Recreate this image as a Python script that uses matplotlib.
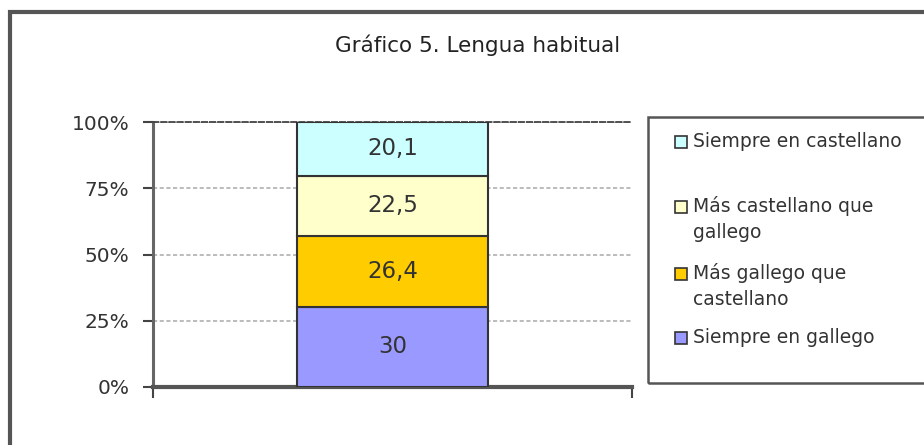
import matplotlib
matplotlib.use("Agg")
import numpy as np
from matplotlib import pyplot as plt
from matplotlib.patches import Rectangle

plt.rcParams['font.family'] = ['DejaVu Sans']

# data (stacked from bottom to top)
series = ["Siempre en gallego", "Más gallego que\ncastellano",
          "Más castellano que\ngallego", "Siempre en castellano"]
values = [30, 26.4, 22.5, 20.1]
value_labels = ["30", "26,4", "22,5", "20,1"]
colors = ["#9999FF", "#FFCC00", "#FFFFCC", "#CCFFFF"]
yticks = [0, 25, 50, 75, 100]
ytick_labels = ["0%", "25%", "50%", "75%", "100%"]

total = sum(values)
pct = [v / total * 100 for v in values]

W, H = 924, 445
fig = plt.figure(figsize=(W / 100, H / 100), dpi=100)
ax = fig.add_axes([153/W, 1 - 387/H, (632-153)/W, (387-122)/H])

bottom = 0
for p, lab, c, txt in zip(pct, series, colors, value_labels):
    ax.bar(0, p, width=0.4, bottom=bottom, color=c, edgecolor="#333333",
           linewidth=1.5, zorder=3, label=lab)
    ax.text(0, bottom + p / 2, txt, ha="center", va="center", fontsize=16.5,
            color="#333333", zorder=4)
    bottom += p

ax.set_xlim(-0.5, 0.5)
ax.set_ylim(0, 100)
ax.set_yticks(yticks)
ax.set_yticklabels(ytick_labels, fontsize=14.5, color="#333333")
ax.set_xticks([-0.5, 0.5])
ax.set_xticklabels([])
ax.tick_params(axis="y", length=7, width=1.5, color="#444444", pad=10)
ax.tick_params(axis="x", length=8, width=1.5, color="#444444")

ax.yaxis.grid(True, color="#b0b0b0", linestyle=(0, (2.5, 1.5)), linewidth=1.2, zorder=0)
ax.set_axisbelow(True)

ax.spines["right"].set_visible(False)
ax.spines["top"].set_color("#444444")
ax.spines["top"].set_linestyle((0, (3, 1.5)))
ax.spines["top"].set_linewidth(1.3)
ax.spines["left"].set_color("#666666")
ax.spines["left"].set_linewidth(2.2)
ax.spines["bottom"].set_color("#555555")
ax.spines["bottom"].set_linewidth(3)

fig.text(478/W, 1 - 45/H, "Gráfico 5. Lengua habitual", ha="center",
         va="center", fontsize=15.5, color="#222222")

# outer chart border
fig.patches.append(Rectangle((10/W, -0.1), 1.1, 1 - 12/H + 0.1,
                             transform=fig.transFigure, fill=False,
                             edgecolor="#555555", linewidth=3))
# legend frame
fig.patches.append(Rectangle((648/W, 1 - 383/H), 0.4, (383-117)/H,
                             transform=fig.transFigure, fill=False,
                             edgecolor="#555555", linewidth=1.8))

# legend entries (top to bottom), key square beside the first line
entry_y = [142, 207, 274, 338]
line_gap = 26
for y, lab, c in zip(entry_y, series[::-1], colors[::-1]):
    fig.patches.append(Rectangle((675/W, 1 - (y + 6)/H), 12/W, 12/H,
                                 transform=fig.transFigure, facecolor=c,
                                 edgecolor="#333333", linewidth=1.2))
    for i, line in enumerate(lab.split("\n")):
        fig.text(693/W, 1 - (y + 5 + i * line_gap)/H, line, ha="left",
                 va="baseline", fontsize=13.5, color="#333333")

fig.savefig("out.png", dpi=100)
